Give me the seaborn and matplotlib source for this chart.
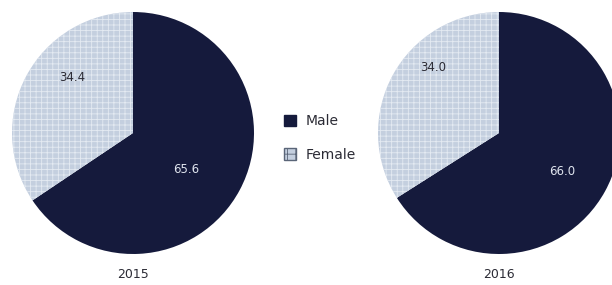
import matplotlib
matplotlib.use("Agg")
import matplotlib.pyplot as plt
import seaborn as sns
from matplotlib.patches import Patch

# data
years = ['2015', '2016']
categories = ['Male', 'Female']
male = [65.6, 66.0]
female = [34.4, 34.0]

sns.set_theme(style="white")
plt.rcParams['font.family'] = ['DejaVu Sans']
plt.rcParams['hatch.linewidth'] = 0.6

MALE_COLOR = '#151a3c'
FEMALE_COLOR = '#c4cfdf'
TEXT_COLOR = '#2b2b35'

fig = plt.figure(figsize=(6.12, 2.85), dpi=100)
fig.patch.set_facecolor('white')

axes_left = [12 / 612, 378 / 612]
# label positions (axes fraction) for female / male values
label_pos = [[(0.25, 0.73), (0.72, 0.35)],
             [(0.23, 0.77), (0.76, 0.34)]]

for i, year in enumerate(years):
    ax = fig.add_axes([axes_left[i], 31 / 285, 242 / 612, 242 / 285])
    wedges, _ = ax.pie([male[i], female[i]], colors=[MALE_COLOR, FEMALE_COLOR],
                       startangle=90, counterclock=False,
                       wedgeprops=dict(linewidth=0, edgecolor='#e4eaf2'))
    wedges[1].set_hatch('+++')
    ax.set_aspect('equal')
    ax.set_xlim(-1, 1)
    ax.set_ylim(-1, 1)
    (fx, fy), (mx, my) = label_pos[i]
    ax.text(fx, fy, f'{female[i]:.1f}', transform=ax.transAxes, ha='center',
            va='center', fontsize=8.5, color=TEXT_COLOR)
    ax.text(mx, my, f'{male[i]:.1f}', transform=ax.transAxes, ha='center',
            va='center', fontsize=8.5, color='#dfe4ee')
    fig.text(axes_left[i] + 121 / 612, 10 / 285, year, ha='center', va='center',
             fontsize=9, color=TEXT_COLOR)

handles = [Patch(facecolor=MALE_COLOR, edgecolor=MALE_COLOR, label='Male'),
           Patch(facecolor=FEMALE_COLOR, edgecolor='#5a6578', hatch='++', label='Female')]
fig.legend(handles=handles, loc='center', bbox_to_anchor=(320 / 612, 1 - 138 / 285),
           frameon=False, fontsize=10, handlelength=0.9, handleheight=0.9,
           handletextpad=0.7, labelspacing=1.4, labelcolor=TEXT_COLOR)

fig.savefig('out.png', dpi=100, facecolor='white')
